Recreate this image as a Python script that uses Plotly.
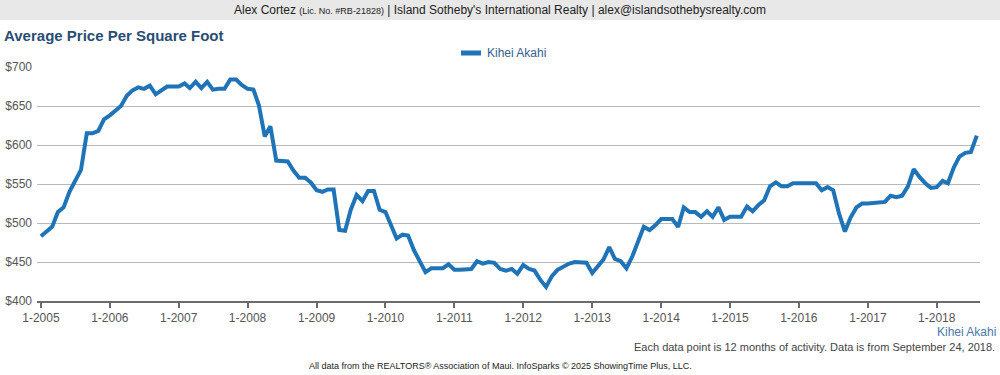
import plotly.graph_objects as go
import pandas as pd

series_name = "Kihei Akahi"
start_month = "2005-01-01"
values = [
    483, 489, 495, 514, 520, 540, 553, 568, 615, 615, 618, 633,
    638, 645, 650, 663, 670, 674, 672, 676, 665, 670, 675, 675,
    675, 679, 673, 681, 673, 681, 671, 672, 672, 684, 684, 677,
    672, 671, 651, 611, 624, 580, 579, 579, 567, 558, 558, 552,
    542, 540, 543, 543, 491, 490, 517, 536, 528, 541, 541, 517,
    514, 495, 480, 485, 484, 465, 452, 437, 442, 442, 442, 447,
    440, 440, 441, 441, 451, 448, 450, 449, 441, 439, 441, 435,
    446, 441, 439, 427, 418, 432, 440, 444, 448, 450, 449, 449,
    436, 444, 453, 469, 454, 451, 442, 457, 478, 495, 491, 497,
    505, 505, 505, 495, 520, 514, 514, 508, 515, 508, 520, 504,
    508, 508, 508, 521, 515, 523, 529, 547, 552, 547, 547, 551,
    551, 551, 551, 551, 542, 546, 542, 512, 489, 507, 520, 525,
    525, 526, 526, 527, 535, 533, 535, 547, 569, 559, 551, 545,
    546, 554, 551, 571, 585, 590, 591, 612,
]
tick_years = list(range(2005, 2019))
tick_labels = [f"1-{y}" for y in tick_years]
y_ticks = [400, 450, 500, 550, 600, 650, 700]
y_labels = [f"${v}" for v in y_ticks]

dates = pd.date_range(start_month, periods=len(values), freq="MS")

W, H = 1000, 375
L, R, T, B = 37, 20, 67, 74
PW, PH = W - L - R, H - T - B


def px(x):
    return (x - L) / PW


def py(y):
    return (H - B - y) / PH


LINE = "#1f73b7"
FONT = "Liberation Sans, Arial, sans-serif"

fig = go.Figure()
fig.add_trace(go.Scatter(
    x=dates, y=values, mode="lines", name=series_name,
    line=dict(color=LINE, width=4), showlegend=False,
    hoverinfo="skip",
))

fig.update_layout(
    width=W, height=H,
    margin=dict(l=L, r=R, t=T, b=B, autoexpand=False),
    paper_bgcolor="white", plot_bgcolor="white",
    font=dict(family=FONT, size=12, color="#555"),
    xaxis=dict(
        range=["2004-12-11", "2018-08-18"],
        tickvals=[pd.Timestamp(f"{y}-01-01") for y in tick_years],
        ticktext=tick_labels,
        showgrid=False, zeroline=False,
        showline=True, linecolor="#6b6b6b", linewidth=2,
        ticks="outside", ticklen=5, tickwidth=2, tickcolor="#6b6b6b",
        tickfont=dict(size=12, color="#555"),
        automargin=False, fixedrange=True,
    ),
    yaxis=dict(
        range=[400, 700],
        tickvals=y_ticks, ticktext=y_labels,
        showgrid=True, gridcolor="#b9b9b9", gridwidth=1,
        zeroline=False, showline=False, ticks="",
        ticklabelstandoff=4,
        tickfont=dict(size=12, color="#555"),
        automargin=False, fixedrange=True,
    ),
    shapes=[
        dict(type="rect", xref="paper", yref="paper",
             x0=px(0), x1=px(W), y0=py(0), y1=py(20),
             fillcolor="#e8e8e8", line=dict(width=0), layer="below"),
        dict(type="line", xref="paper", yref="paper",
             x0=px(461), x1=px(481), y0=py(53), y1=py(53),
             line=dict(color=LINE, width=5)),
    ],
    annotations=[
        dict(xref="paper", yref="paper", x=px(500), y=py(10),
             xanchor="center", yanchor="middle", showarrow=False,
             text="Alex Cortez <span style='font-size:9px'>(Lic. No. #RB-21828)</span> | Island Sotheby's International Realty | alex@islandsothebysrealty.com",
             font=dict(size=12, color="#222")),
        dict(xref="paper", yref="paper", x=px(2), y=py(35),
             xanchor="left", yanchor="middle", showarrow=False,
             text="<b>Average Price Per Square Foot</b>",
             font=dict(size=15, color="#2a4d73")),
        dict(xref="paper", yref="paper", x=px(485), y=py(53),
             xanchor="left", yanchor="middle", showarrow=False,
             text=series_name, font=dict(size=12, color="#35608f")),
        dict(xref="paper", yref="paper", x=px(998), y=py(332),
             xanchor="right", yanchor="middle", showarrow=False,
             text=series_name, font=dict(size=12, color="#4a78a8")),
        dict(xref="paper", yref="paper", x=px(997), y=py(347),
             xanchor="right", yanchor="middle", showarrow=False,
             text="Each data point is 12 months of activity. Data is from September 24, 2018.",
             font=dict(size=11, color="#444")),
        dict(xref="paper", yref="paper", x=px(500), y=py(366),
             xanchor="center", yanchor="middle", showarrow=False,
             text="All data from the REALTORS® Association of Maui. InfoSparks © 2025 ShowingTime Plus, LLC.",
             font=dict(size=9, color="#222")),
    ],
)

fig.write_html(
    "out.html",
    config={"displayModeBar": False},
    post_script="document.body.style.margin='0';document.body.style.overflow='hidden';",
)
